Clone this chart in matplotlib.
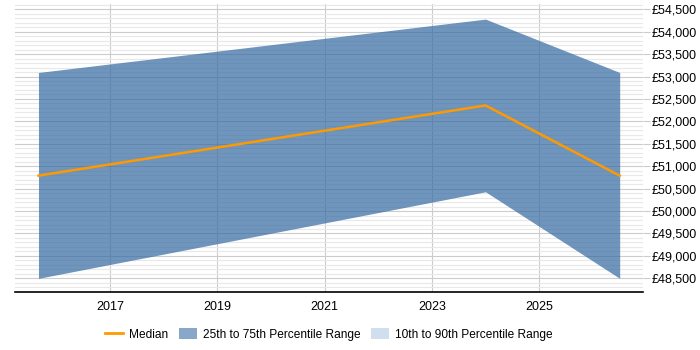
import matplotlib
matplotlib.use('Agg')
import matplotlib.pyplot as plt
from matplotlib.patches import Patch
from matplotlib.lines import Line2D
from matplotlib.ticker import MultipleLocator, FuncFormatter

plt.rcParams['font.family'] = ['Liberation Sans', 'DejaVu Sans']

# data
years = [2015.67, 2024.0, 2026.5]
median = [50790, 52355, 50790]
p25 = [48500, 50430, 48500]
p75 = [53090, 54280, 53090]

fig = plt.figure(figsize=(7, 3.5), dpi=100)
ax = fig.add_axes([0.022, 0.165, 0.897, 0.824])

ax.fill_between(years, p25, p75, color='#3369a2', alpha=0.7, lw=0, zorder=2)
ax.plot(years, median, color='#ff9900', lw=1.8, zorder=3)

ax.set_xlim(2015.24, 2026.94)
ax.set_ylim(48190, 54620)

ax.set_xticks([2017, 2019, 2021, 2023, 2025])
ax.xaxis.set_major_formatter(FuncFormatter(lambda v, p: f'{int(v)}'))

ax.yaxis.set_major_locator(MultipleLocator(500))
ax.yaxis.set_minor_locator(MultipleLocator(100))
ax.yaxis.set_major_formatter(FuncFormatter(lambda v, p: f'£{int(v):,}'))
ax.yaxis.tick_right()

ax.grid(True, which='major', axis='y', color='#cccccc', lw=0.8, zorder=0)
ax.grid(True, which='minor', axis='y', color='#e8e8e8', lw=0.8, zorder=0)
ax.grid(True, which='major', axis='x', color='#cccccc', lw=0.8, zorder=0)
ax.set_axisbelow(True)

for s in ['left', 'right', 'top']:
    ax.spines[s].set_visible(False)
ax.spines['bottom'].set_color('black')
ax.spines['bottom'].set_linewidth(1.2)

ax.tick_params(axis='y', which='major', length=5, color='#cccccc', labelsize=9, pad=1)
ax.tick_params(axis='y', which='minor', length=0)
ax.tick_params(axis='x', length=0, labelsize=9, pad=6)

handles = [
    Line2D([0], [0], color='#ff9900', lw=2),
    Patch(facecolor='#89a7c8', edgecolor='none'),
    Patch(facecolor='#cfdff0', edgecolor='none'),
]
labels = ['Median', '25th to 75th Percentile Range', '10th to 90th Percentile Range']
fig.legend(handles, labels, loc='center', bbox_to_anchor=(0.47, 0.045), ncol=3,
           frameon=False, fontsize=8.6, handlelength=1.5, handleheight=1.1,
           columnspacing=0.9, handletextpad=0.5)

plt.savefig('out.png', dpi=100)
